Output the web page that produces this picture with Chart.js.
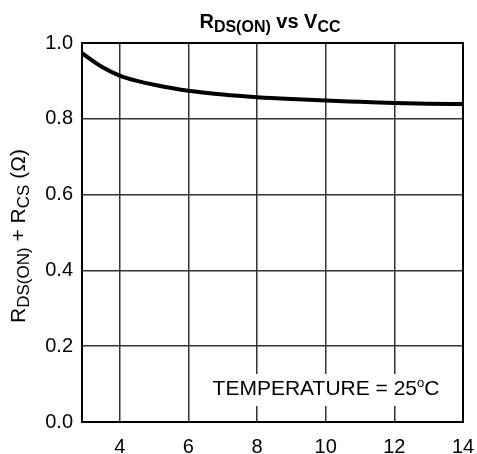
<!DOCTYPE html>
<html>
<head>
<meta charset="utf-8">
<script src="https://cdn.jsdelivr.net/npm/chart.js@4"></script>
<style>
  body { margin: 0; background: #fff; }
  #wrap { width: 477px; height: 454px; }
</style>
</head>
<body>
<div id="wrap"><canvas id="rdsChart" width="477" height="454"></canvas></div>
<script>
// values
const vcc = [2.9, 3.5, 4, 4.5, 5, 6, 7, 8, 9, 10, 11, 12, 13, 14];
const rdsOn = [0.973, 0.936, 0.914, 0.900, 0.890, 0.874, 0.864, 0.857, 0.852, 0.848, 0.845, 0.842, 0.840, 0.839];
const xTicks = [4, 6, 8, 10, 12, 14];
const yTicks = [0, 0.2, 0.4, 0.6, 0.8, 1.0];

const FONT = 'Arial, "Liberation Sans", sans-serif';

// draws a run of [text, isSub, isSup] pieces starting at x,y
function drawPieces(ctx, pieces, x, y, size, subSize, bold) {
  const w = bold ? 'bold ' : '';
  pieces.forEach(p => {
    const sz = p[1] ? subSize : (p[2] ? Math.round(size * 0.6) : size);
    ctx.font = w + sz + 'px ' + FONT;
    const dy = p[1] ? size * 0.18 : (p[2] ? -size * 0.4 : 0);
    ctx.fillText(p[0], x, y + dy);
    x += ctx.measureText(p[0]).width;
  });
}
function piecesWidth(ctx, pieces, size, subSize, bold) {
  const w = bold ? 'bold ' : '';
  let total = 0;
  pieces.forEach(p => {
    const sz = p[1] ? subSize : (p[2] ? Math.round(size * 0.6) : size);
    ctx.font = w + sz + 'px ' + FONT;
    total += ctx.measureText(p[0]).width;
  });
  return total;
}

const extras = {
  id: 'extras',
  beforeDatasetsDraw(chart) {
    const { ctx } = chart;
    ctx.save();
    // temperature note on a white box
    const note = [['TEMPERATURE = 25'], ['o', false, true], ['C']];
    const nw = piecesWidth(ctx, note, 21, 13, false);
    const cx = 326;
    ctx.fillStyle = '#fff';
    ctx.fillRect(cx - nw / 2 - 6, 374, nw + 12, 32);
    ctx.fillStyle = '#000';
    ctx.textBaseline = 'alphabetic';
    drawPieces(ctx, note, cx - nw / 2, 395, 21, 13, false);
    ctx.restore();
  },
  afterDraw(chart) {
    const { ctx, chartArea: a } = chart;
    ctx.save();
    // frame
    ctx.strokeStyle = '#000';
    ctx.lineWidth = 2;
    ctx.strokeRect(a.left, a.top, a.right - a.left, a.bottom - a.top);
    ctx.fillStyle = '#000';
    ctx.textBaseline = 'alphabetic';
    // title
    const title = [['R'], ['DS(ON)', true], [' vs V'], ['CC', true]];
    const tw = piecesWidth(ctx, title, 20, 16, true);
    drawPieces(ctx, title, 270 - tw / 2, 28, 20, 16, true);
    // y axis title
    const ylab = [['R'], ['DS(ON)', true], [' + R'], ['CS', true], [' (\u03A9)']];
    const yw = piecesWidth(ctx, ylab, 21, 17, false);
    ctx.translate(25, 236);
    ctx.rotate(-Math.PI / 2);
    drawPieces(ctx, ylab, -yw / 2, 0, 21, 17, false);
    ctx.restore();
  }
};

new Chart(document.getElementById('rdsChart'), {
  type: 'scatter',
  data: {
    datasets: [{
      data: vcc.map((v, i) => ({ x: v, y: rdsOn[i] })),
      showLine: true,
      borderColor: '#000',
      borderWidth: 4,
      pointRadius: 0,
      cubicInterpolationMode: 'monotone'
    }]
  },
  options: {
    responsive: false,
    animation: false,
    layout: { padding: { top: 43, right: 14, left: 0, bottom: 0 } },
    plugins: { legend: { display: false }, tooltip: { enabled: false } },
    scales: {
      x: {
        type: 'linear',
        min: 2.9,
        max: 14,
        afterBuildTicks: s => { s.ticks = xTicks.map(v => ({ value: v })); },
        afterFit: s => { s.height = 32; s.paddingLeft = 0; s.paddingRight = 0; },
        grid: { color: '#333', lineWidth: 1.5, drawTicks: false },
        border: { display: false },
        ticks: { color: '#000', font: { family: FONT, size: 20 }, padding: 13, maxRotation: 0 }
      },
      y: {
        min: 0,
        max: 1.0,
        afterBuildTicks: s => { s.ticks = yTicks.map(v => ({ value: v })); },
        afterFit: s => { s.width = 82; s.paddingTop = 0; s.paddingBottom = 0; },
        grid: { color: '#333', lineWidth: 1.5, drawTicks: false },
        border: { display: false },
        ticks: { color: '#000', font: { family: FONT, size: 20 }, padding: 9, callback: v => v.toFixed(1) }
      }
    }
  },
  plugins: [extras]
});
</script>
</body>
</html>
